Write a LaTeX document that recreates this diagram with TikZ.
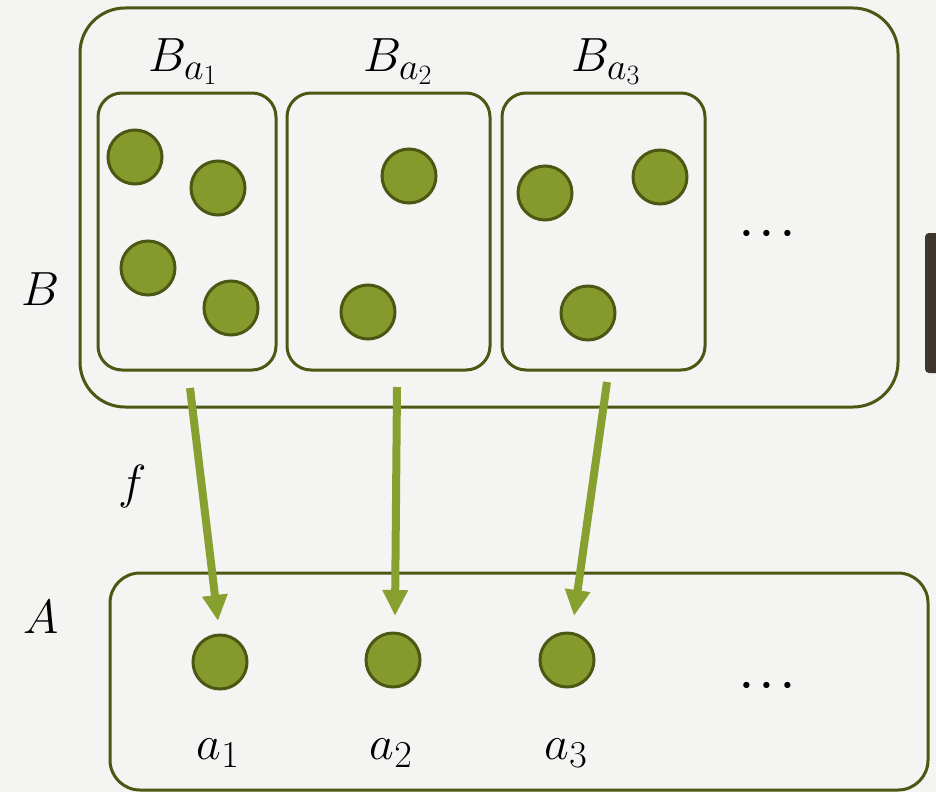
\documentclass[tikz,border=0pt]{standalone}
\usepackage{fix-cm}
\DeclareMathSizes{48}{48}{38}{28}
\DeclareMathSizes{40}{40}{30}{22}
\usetikzlibrary{arrows.meta}
\definecolor{bg}{HTML}{F4F4F2}
\definecolor{olive}{HTML}{4A5814}
\definecolor{dotfill}{HTML}{86992C}
\definecolor{arrowc}{HTML}{88A030}
\definecolor{barc}{HTML}{3E362D}
\begin{document}
\begin{tikzpicture}[x=1pt,y=-1pt,
  setbox/.style={draw=olive,line width=3pt},
  elem/.style={circle,draw=olive,fill=dotfill,line width=3pt,minimum size=54pt,inner sep=0pt},
  lbl/.style={font=\fontsize{48}{54}\selectfont,inner sep=0pt},
  ellip/.style={font=\fontsize{40}{46}\selectfont\boldmath,inner sep=0pt},
  mapar/.style={draw=arrowc,line width=8pt,-{Triangle[length=26pt,width=24pt]},shorten >=0pt}
]
\fill[bg] (0,0) rectangle (936,792);
\useasboundingbox (0,0) rectangle (936,792);
% outer B box
\draw[setbox,rounded corners=45pt] (80,8) rectangle (898,407);
% inner boxes
\draw[setbox,rounded corners=24pt] (98,93) rectangle (276,370);
\draw[setbox,rounded corners=24pt] (287,93) rectangle (490,370);
\draw[setbox,rounded corners=24pt] (502,93) rectangle (705,370);
% A box
\draw[setbox,rounded corners=30pt] (110,573) rectangle (928,790);
% scrollbar artefact
\fill[barc,rounded corners=4pt] (925,233) rectangle (940,373);
% labels
\node[lbl] (lBa1) at (183,62) {$B_{a_1}$};
\node[lbl] (lBa2) at (398,62) {$B_{a_2}$};
\node[lbl] (lBa3) at (606,62) {$B_{a_3}$};
\node[lbl] (lB) at (41,289) {$B$};
\node[lbl] (lA) at (41,617) {$A$};
\node[lbl] (lf) at (133,486) {$f$};
\node[ellip] (dotsB) at (767,234) {$\cdots$};
\node[ellip] (dotsA) at (767,686) {$\cdots$};
\node[lbl] (la1) at (218,753) {$a_1$};
\node[lbl] (la2) at (391,753) {$a_2$};
\node[lbl] (la3) at (566,753) {$a_3$};
% elements of B
\node[elem] (b11) at (135,157) {};
\node[elem] (b12) at (218,188) {};
\node[elem] (b13) at (148,268) {};
\node[elem] (b14) at (231,308) {};
\node[elem] (b21) at (409,176) {};
\node[elem] (b22) at (368,312) {};
\node[elem] (b31) at (545,193) {};
\node[elem] (b32) at (660,177) {};
\node[elem] (b33) at (588,313) {};
% elements of A
\node[elem] (a1) at (220,662) {};
\node[elem] (a2) at (393,660) {};
\node[elem] (a3) at (567,660) {};
% arrow ends
\coordinate (s1) at (190,388);
\coordinate (s2) at (397,387);
\coordinate (s3) at (607,382);
\coordinate (t1) at (218,621);
\coordinate (t2) at (395,616);
\coordinate (t3) at (574,616);
\draw[mapar] (s1) -- (t1);
\draw[mapar] (s2) -- (t2);
\draw[mapar] (s3) -- (t3);
\end{tikzpicture}
\end{document}
